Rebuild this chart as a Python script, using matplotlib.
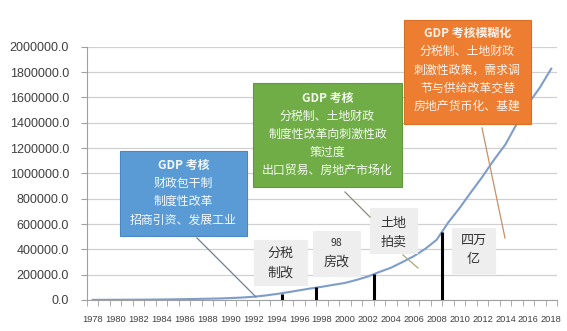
import matplotlib
matplotlib.use('Agg')
import matplotlib.pyplot as plt
from matplotlib.patches import Rectangle
from matplotlib.lines import Line2D
import numpy as np

plt.rcParams['font.family'] = ['Noto Sans CJK SC', 'DejaVu Sans']

# M2 (100 million yuan)
years = list(range(1978, 2019))
m2 = [1159, 1458, 1843, 2235, 2590, 3075, 4146, 5199, 6721, 8331,
      10100, 11950, 15293, 19350, 25402, 34880, 46924, 60751, 76095, 90995,
      104499, 119898, 134610, 158302, 185007, 221223, 254107, 298756, 345578, 403442,
      475167, 610225, 725852, 851591, 974149, 1106525, 1228375, 1392278, 1550067, 1676769,
      1826744]

# event markers (position between years, bar height)
event_x = [1994.5, 1997.5, 2002.5, 2008.5]
event_h = [48000, 100000, 205000, 540000]

W, H = 567, 331
fig = plt.figure(figsize=(W / 100, H / 100), dpi=100)
ax = fig.add_axes([87 / W, 1 - 300 / H, (557 - 87) / W, (300 - 46.7) / H])

ax.plot(years, m2, color='#7E9DCB', lw=1.5, zorder=3)
ax.vlines(event_x, 0, event_h, color='black', lw=2.2, zorder=4)

ax.set_xlim(1977.5, 2018.5)
ax.set_ylim(0, 2000000)
ax.set_yticks(np.arange(0, 2000001, 200000))
ax.set_yticklabels(['%.1f' % v for v in np.arange(0, 2000001, 200000)],
                   fontsize=9, family='Liberation Sans', color='#404040')
ax.set_xticks(years[::2])
ax.set_xticklabels([str(y) for y in years[::2]], fontsize=6.7,
                   family='Liberation Sans', color='#404040')
ax.set_xticks(np.arange(1977.5, 2019, 1), minor=True)
ax.tick_params(axis='x', which='major', length=0, pad=10.5)
ax.tick_params(axis='x', which='minor', length=4, color='#A0A0A0', direction='out')
ax.tick_params(axis='y', length=4, color='#A0A0A0', pad=9)
ax.grid(axis='y', color='#D0D0D0', lw=0.9)
ax.set_axisbelow(True)
for s in ['top', 'right']:
    ax.spines[s].set_visible(False)
ax.spines['left'].set_color('#A0A0A0')
ax.spines['bottom'].set_color('#A0A0A0')


def fx(x):
    return x / W


def fy(y):
    return 1 - y / H


def box(x0, y0, x1, y1, fc, ec):
    fig.patches.append(Rectangle((fx(x0), fy(y1)), fx(x1 - x0), (y1 - y0) / H,
                                 transform=fig.transFigure, fc=fc, ec=ec, lw=0.8, zorder=5))


def line(x0, y0, x1, y1, c):
    fig.lines.append(Line2D([fx(x0), fx(x1)], [fy(y0), fy(y1)],
                            transform=fig.transFigure, color=c, lw=0.9, zorder=6))


def lines(cx, ys, texts, color, size, bold_first=False):
    for i, (y, t) in enumerate(zip(ys, texts)):
        fig.text(fx(cx), fy(y), t, ha='center', va='center', color=color,
                 fontsize=size, fontweight='bold' if (bold_first and i == 0) else 'normal',
                 zorder=7)


# connectors
line(197, 238, 256, 297, '#6F7F95')
line(345, 192, 370, 217, '#8C8C78')
line(482, 128, 505, 238, '#C89066')
line(403, 255, 418, 268, '#A8A878')

# colored boxes
box(120, 151, 247, 236, '#5B9BD5', '#4A86C0')
lines(183.5, [165, 183.3, 201, 220],
      ['GDP 考核', '财政包干制', '制度性改革', '招商引资、发展工业'],
      '#F4F8FC', 8.6, True)

box(253, 83, 402, 187, '#70AD47', '#62993D')
lines(327.5, [98.3, 116.7, 134.5, 152, 170],
      ['GDP 考核', '分税制、土地财政', '制度性改革向刺激性政', '策过度', '出口贸易、房地产市场化'],
      '#F4FAF0', 8.6, True)

box(404, 19.5, 531, 124, '#ED7D31', '#D96E25')
lines(467.5, [33.3, 51.7, 70, 88.3, 106.7],
      ['GDP 考核模糊化', '分税制、土地财政', '刺激性政策，需求调', '节与供给改革交替', '房地产货币化、基建'],
      '#FDF3EC', 8.6, True)

# gray label boxes
gray = '#EEEEEE'
box(254, 240, 307, 285, gray, gray)
lines(280.5, [253.3, 272.7], ['分税', '制改'], '#333333', 9.4)
box(313, 231, 360, 276, gray, gray)
lines(336.5, [243.3, 261.7], ['98', '房改'], '#333333', 9.4)
fig.texts[-2].set_fontsize(7.5)
box(370, 208, 417, 253, gray, gray)
lines(393.5, [223.3, 241.7], ['土地', '拍卖'], '#333333', 9.4)
box(452, 228, 495, 273, gray, gray)
lines(473.5, [241.7, 260], ['四万', '亿'], '#333333', 9.4)

fig.savefig('out.png', dpi=100)
